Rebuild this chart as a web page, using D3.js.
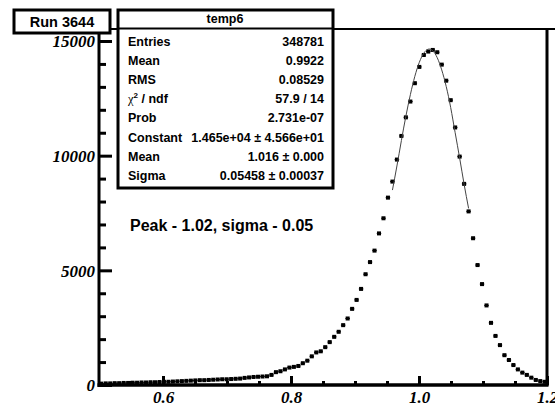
<!DOCTYPE html>
<html>
<head>
<meta charset="utf-8">
<script src="https://cdn.jsdelivr.net/npm/d3@7"></script>
<style>
  body { margin: 0; background: #fff; }
  svg { display: block; }
  .tick text { font-family: "Liberation Serif", "Times New Roman", serif; font-style: italic; font-weight: bold; font-size: 17px; fill: #000; }
</style>
</head>
<body>
<svg id="chart" width="555" height="408"></svg>
<script>
// histogram of temp6, 100 bins from 0.5 to 1.2
const binStart = 0.5;
const binWidth = 0.007;
const counts = [
  60, 70, 70, 80, 80, 90, 90, 100, 100, 110,
  110, 120, 120, 130, 140, 140, 150, 160, 170, 180,
  190, 200, 210, 210, 220, 230, 240, 250, 250, 260,
  270, 280, 310, 330, 350, 360, 370, 380, 440, 560,
  600, 680, 760, 790, 830, 950, 1060, 1250, 1420, 1470,
  1650, 1870, 2100, 2320, 2610, 2900, 3320, 3710, 4190, 4830,
  5360, 5860, 6610, 7270, 8170, 8870, 9830, 10860, 11670, 12360,
  13160, 13870, 14390, 14540, 14610, 14510, 13970, 13270, 12420, 11230,
  9960, 8770, 7570, 6400, 5230, 4400, 3470, 2710, 2140, 1740,
  1300, 1090, 870, 680, 540, 440, 320, 220, 170, 140
];

// gaussian fit curve, read at bin centres of bins 65..82
const fitFirstBin = 65;
const fitCounts = [8500, 9550, 10660, 11720, 12660, 13460, 14070, 14470, 14645,
  14575, 14270, 13740, 13020, 12100, 11000, 9900, 8750, 7700];

const xMajor = [0.6, 0.8, 1.0, 1.2];
const xMinor = [0.55, 0.65, 0.7, 0.75, 0.85, 0.9, 0.95, 1.05, 1.1, 1.15];
const yMajor = [0, 5000, 10000, 15000];
const yMinor = [1000, 2000, 3000, 4000, 6000, 7000, 8000, 9000, 11000, 12000, 13000, 14000, 15000];

const statLabels = ['Entries', 'Mean', 'RMS', 'chi', 'Prob', 'Constant', 'Mean', 'Sigma'];
const statValues = ['348781', '0.9922', '0.08529', '57.9 / 14', '2.731e-07',
  '1.465e+04 \u00b1 4.566e+01', '1.016 \u00b1 0.000', '0.05458 \u00b1 0.00037'];

const svg = d3.select('#chart');
const sans = '"Liberation Sans", Arial, Helvetica, sans-serif';

const x = d3.scaleLinear().domain([0.5, 1.2]).range([99, 547]);
const y = d3.scaleLinear().domain([0, 15000]).range([385, 41]);
const yTop = 29;

// data points
const points = counts.map((c, i) => ({ x: binStart + binWidth * (i + 0.5), v: c }));

svg.append('g')
  .selectAll('line')
  .data(points)
  .enter()
  .append('line')
  .attr('x1', d => x(d.x - binWidth / 2))
  .attr('x2', d => x(d.x + binWidth / 2))
  .attr('y1', d => y(d.v))
  .attr('y2', d => y(d.v))
  .attr('stroke', '#000')
  .attr('stroke-width', 1);

svg.append('g')
  .selectAll('rect')
  .data(points)
  .enter()
  .append('rect')
  .attr('x', d => x(d.x) - 2)
  .attr('y', d => y(d.v) - 2)
  .attr('width', 4)
  .attr('height', 4)
  .attr('fill', '#000');

// fit line
const fitPts = fitCounts.map((c, i) => ({ x: binStart + binWidth * (fitFirstBin + i + 0.5), v: c }));
svg.append('path')
  .datum(fitPts)
  .attr('fill', 'none')
  .attr('stroke', '#444')
  .attr('stroke-width', 1)
  .attr('d', d3.line().x(d => x(d.x)).y(d => y(d.v)).curve(d3.curveNatural));

// axes, ticks drawn inside the frame
const yMinorAxis = svg.append('g').attr('transform', 'translate(99,0)')
  .call(d3.axisLeft(y).tickValues(yMinor).tickSize(-7).tickFormat(''));
const yAxis = svg.append('g').attr('transform', 'translate(99,0)')
  .call(d3.axisLeft(y).tickValues(yMajor).tickSize(-13).tickPadding(4).tickFormat(d3.format('d')));
const xMinorAxis = svg.append('g').attr('transform', 'translate(0,385)')
  .call(d3.axisBottom(x).tickValues(xMinor).tickSize(-4).tickFormat(''));
const xAxis = svg.append('g').attr('transform', 'translate(0,385)')
  .call(d3.axisBottom(x).tickValues(xMajor).tickSize(-9).tickPadding(6).tickFormat(d3.format('.1f')));

[yMinorAxis, yAxis, xMinorAxis, xAxis].forEach(g => {
  g.select('.domain').remove();
  g.selectAll('.tick line').attr('stroke', '#000').attr('stroke-width', 3);
});
yAxis.selectAll('.tick text').attr('dy', '0.34em');

// frame
svg.append('line').attr('x1', 99).attr('x2', 555).attr('y1', yTop).attr('y2', yTop)
  .attr('stroke', '#000').attr('stroke-width', 2);
svg.append('line').attr('x1', 547).attr('x2', 547).attr('y1', yTop).attr('y2', 386)
  .attr('stroke', '#000').attr('stroke-width', 3);
svg.append('line').attr('x1', 99).attr('x2', 99).attr('y1', yTop).attr('y2', 387)
  .attr('stroke', '#000').attr('stroke-width', 3);
svg.append('line').attr('x1', 97.5).attr('x2', 548.5).attr('y1', 385).attr('y2', 385)
  .attr('stroke', '#000').attr('stroke-width', 3.5);

// run label box
svg.append('rect').attr('x', 14).attr('y', 10).attr('width', 96).attr('height', 23)
  .attr('fill', '#fff').attr('stroke', '#000').attr('stroke-width', 3);
svg.append('text').attr('x', 62).attr('y', 27).attr('text-anchor', 'middle')
  .attr('font-family', sans).attr('font-weight', 'bold').attr('font-size', 14.5)
  .text('Run 3644');

// stats box
svg.append('rect').attr('x', 118).attr('y', 10).attr('width', 215).attr('height', 178)
  .attr('fill', '#fff').attr('stroke', '#000').attr('stroke-width', 3);
svg.append('line').attr('x1', 118).attr('x2', 333).attr('y1', 28.5).attr('y2', 28.5)
  .attr('stroke', '#000').attr('stroke-width', 2);
svg.append('text').attr('x', 225).attr('y', 23).attr('text-anchor', 'middle')
  .attr('font-family', sans).attr('font-weight', 'bold').attr('font-size', 12.5)
  .text('temp6');

const rowY = d3.scaleLinear().domain([0, 7]).range([45.5, 180]);
const stats = svg.append('g').attr('font-family', sans).attr('font-weight', 'bold').attr('font-size', 12.5);
statLabels.forEach((lab, i) => {
  const t = stats.append('text').attr('x', 128).attr('y', rowY(i));
  if (lab === 'chi') {
    t.append('tspan').attr('font-family', '"Liberation Serif", serif').attr('font-weight', 'normal').text('\u03c7');
    t.append('tspan').attr('font-size', 8).attr('dy', -5).text('2');
    t.append('tspan').attr('dy', 5).text(' / ndf');
  } else {
    t.text(lab);
  }
  stats.append('text').attr('x', 324).attr('y', rowY(i)).attr('text-anchor', 'end').text(statValues[i]);
});

// annotation
svg.append('text').attr('x', 130).attr('y', 231)
  .attr('font-family', sans).attr('font-weight', 'bold').attr('font-size', 16)
  .text('Peak - 1.02, sigma - 0.05');
</script>
</body>
</html>
